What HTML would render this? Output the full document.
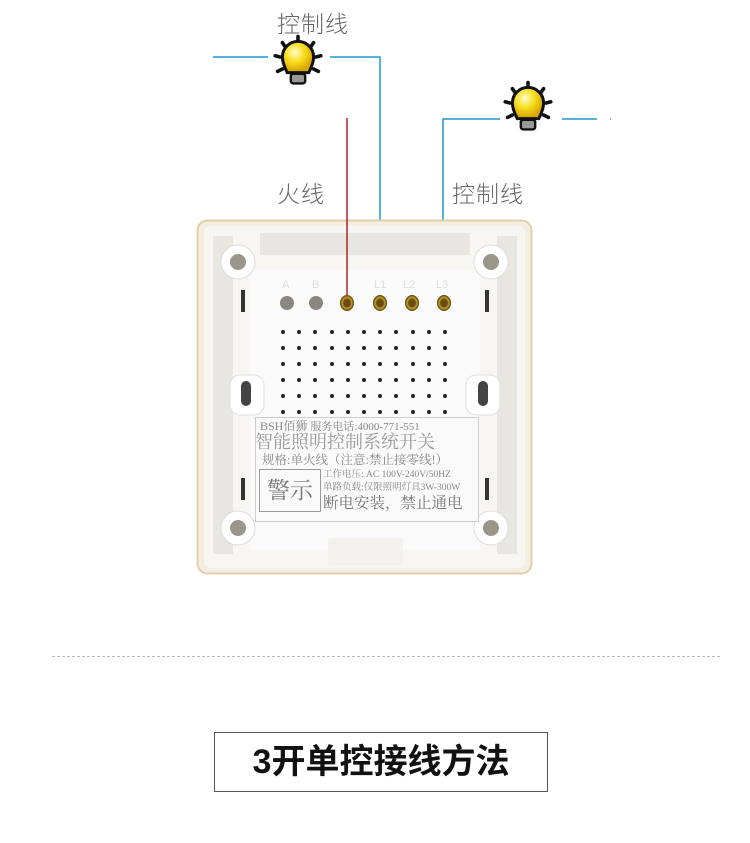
<!DOCTYPE html>
<html><head><meta charset="utf-8"><style>
body{margin:0;width:750px;height:843px;background:#fff;position:relative;overflow:hidden;font-family:"Liberation Sans","Noto Sans CJK SC",sans-serif}
.a{position:absolute}
.lbl{color:#666;font-size:23px;font-weight:300;letter-spacing:1px}
.dot{position:absolute;width:4px;height:4px;border-radius:50%;background:#222}
.term{position:absolute;width:14px;height:16px;border-radius:50%;background:radial-gradient(#6a4a10 35%,#c9a02c 45%,#5a420c 70%);}
</style></head><body>
<div class="a lbl" style="left:277px;top:5px">控制线</div>
<div class="a lbl" style="left:277px;top:175px">火线</div>
<div class="a lbl" style="left:452px;top:175px">控制线</div>

<svg class="a" style="left:0;top:0" width="750" height="843">
<defs><radialGradient id="g" cx="40%" cy="35%" r="60%"><stop offset="0" stop-color="#fffbd0"/><stop offset=".5" stop-color="#f8e020"/><stop offset="1" stop-color="#d8a800"/></radialGradient>
<g id="bulb"><g stroke="#111" stroke-width="3" stroke-linecap="round"><line x1="0" y1="-22" x2="0" y2="-18"/><line x1="-13" y1="-17" x2="-11" y2="-14"/><line x1="13" y1="-17" x2="11" y2="-14"/><line x1="-19" y1="-6" x2="-15" y2="-5"/><line x1="19" y1="-6" x2="15" y2="-5"/><line x1="-17" y1="7" x2="-13" y2="5"/><line x1="17" y1="7" x2="13" y2="5"/></g>
<path d="M-9,8 C-12,2 -13,-2 -13,-5 A13,13 0 1 1 13,-5 C13,-2 12,2 9,8 Z" fill="url(#g)" stroke="#111" stroke-width="2.5"/>
<rect x="-6" y="9" width="12" height="8" rx="2" fill="#999" stroke="#111" stroke-width="2"/></g></defs>
<g stroke="#1a9ad6" stroke-width="1.5" fill="none">
<line x1="213" y1="57" x2="268" y2="57"/><polyline points="330,57 380,57 380,300"/>
<polyline points="443,300 443,119 500,119"/><line x1="562" y1="119" x2="597" y2="119"/><line x1="610" y1="119" x2="611" y2="119"/></g>
<g transform="translate(298,63) scale(1.2)"><use href="#bulb"/></g>
<g transform="translate(528,109) scale(1.2)"><use href="#bulb"/></g>
<rect x="197.5" y="220.5" width="334" height="353" rx="10" fill="#f3ede2" stroke="#e3cfa6" stroke-width="2"/>
<rect x="204" y="226" width="321" height="342" rx="6" fill="#f7f6f3"/>
<rect x="250" y="270" width="230" height="280" fill="#fafafa"/>
<g fill="#e8e6e1"><rect x="213" y="236" width="20" height="318"/><rect x="497" y="236" width="20" height="318"/><rect x="260" y="233" width="210" height="22"/><rect x="328" y="538" width="75" height="27" rx="3" fill="#f2f1ed"/></g>
<g fill="#fff" stroke="#ddd"><circle cx="238" cy="262" r="17"/><circle cx="491" cy="262" r="17"/><circle cx="238" cy="528" r="17"/><circle cx="491" cy="528" r="17"/><rect x="230" y="375" width="34" height="40" rx="10"/><rect x="466" y="375" width="34" height="40" rx="10"/></g>
<g fill="#9b958a"><circle cx="238" cy="262" r="8"/><circle cx="491" cy="262" r="8"/><circle cx="238" cy="528" r="8"/><circle cx="491" cy="528" r="8"/><rect x="241" y="381" width="10" height="25" rx="5" fill="#444"/><rect x="478" y="381" width="10" height="25" rx="5" fill="#444"/><rect x="241" y="290" width="4" height="22" fill="#333"/><rect x="485" y="290" width="4" height="22" fill="#333"/><rect x="241" y="478" width="4" height="22" fill="#333"/><rect x="485" y="478" width="4" height="22" fill="#333"/></g>
<g font-size="11" fill="#ddd" font-family="Liberation Sans"><text x="282" y="288">A</text><text x="312" y="288">B</text><text x="374" y="288">L1</text><text x="403" y="288">L2</text><text x="436" y="288">L3</text></g>
<circle cx="287" cy="303" r="7" fill="#8a8780"/><circle cx="316" cy="303" r="7" fill="#8a8780"/>
<line x1="347" y1="118" x2="347" y2="300" stroke="#b0252a" stroke-width="1.5"/>
</svg>
<div class="term" style="left:340px;top:295px"></div><div class="term" style="left:373px;top:295px"></div><div class="term" style="left:405px;top:295px"></div><div class="term" style="left:437px;top:295px"></div>
<div id="dots"></div>
<script>
var s='';for(var r=0;r<6;r++)for(var c=0;c<11;c++)s+='<div class="dot" style="left:'+(281+c*16.2)+'px;top:'+(330+r*16)+'px"></div>';document.getElementById('dots').innerHTML=s;
</script>
<div class="a" style="left:255px;top:417px;width:222px;height:103px;border:1px solid #ccc;background:rgba(250,250,250,.9);font-family:'Liberation Serif','Noto Serif CJK SC',serif;color:#888;line-height:1">
<div class="a" style="left:4px;top:2px;font-size:12px;white-space:nowrap">BSH佰狮 <span style="font-size:11px">服务电话:4000-771-551</span></div>
<div class="a" style="left:-1px;top:15px;font-size:18px;white-space:nowrap;color:#999">智能照明控制系统开关</div>
<div class="a" style="left:6px;top:36px;font-size:12.5px;white-space:nowrap">规格:单火线（注意:禁止接零线!）</div>
<div class="a" style="left:3px;top:51px;width:60px;height:41px;border:1px solid #999;font-size:23px;text-align:center;line-height:41px;color:#777">警示</div>
<div class="a" style="left:67px;top:53px;font-size:9.5px;white-space:nowrap">工作电压: AC 100V-240V/50HZ</div>
<div class="a" style="left:67px;top:66px;font-size:9.5px;white-space:nowrap">单路负载:仅限照明灯具3W-300W</div>
<div class="a" style="left:67px;top:78px;font-size:15.5px;white-space:nowrap;color:#777">断电安装，禁止通电</div>
</div>
<div class="a" style="left:52px;top:656px;width:668px;border-top:1px dashed #bbb"></div>
<div class="a" style="left:214px;top:732px;width:332px;height:58px;border:1px solid #555;text-align:center;line-height:58px;font-size:34px;font-weight:bold;color:#111">3开单控接线方法</div>
</body></html>
